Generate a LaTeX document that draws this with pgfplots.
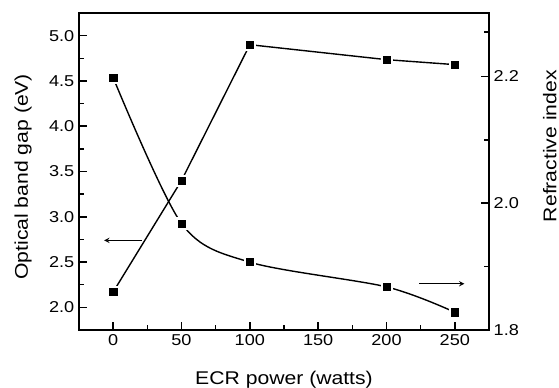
\documentclass[border=0pt]{standalone}
\usepackage{fontspec}
\setmainfont{Liberation Sans}[FakeStretch=1.15]
\usepackage{pgfplots}
\pgfplotsset{compat=1.18}
\begin{document}
\begin{tikzpicture}
\useasboundingbox (0,0) rectangle (419.25pt,291pt);
\pgfplotsset{
  every axis/.append style={
    scale only axis, width=307.5pt, height=237.75pt,
    at={(59.25pt,43.5pt)}, anchor=south west,
    xmin=-25, xmax=275,
    axis line style={line width=1.3pt},
    major tick length=6pt, minor tick length=3.5pt,
    every tick/.style={black, line width=1.1pt},
    tick label style={font=\fontsize{11.8}{13}\selectfont},
    label style={font=\fontsize{13.8}{16}\selectfont},
    /pgf/number format/assume math mode=true,
  }
}
\begin{axis}[
  ymin=1.75, ymax=5.25,
  xtick={0,50,100,150,200,250}, minor xtick={25,75,125,175,225},
  ytick={2.0,2.5,3.0,3.5,4.0,4.5,5.0}, minor ytick={2.25,2.75,3.25,3.75,4.25,4.75},
  xtick pos=bottom, ytick pos=left,
  yticklabel style={/pgf/number format/.cd, fixed, fixed zerofill, precision=1},
  xlabel={ECR power (watts)},
  ylabel={Optical band gap (eV)},
  xlabel style={at={([yshift=-41.25pt]axis description cs:0.5,0)}, anchor=base},
  ylabel style={at={([xshift=-38.25pt,yshift=-4pt]axis description cs:0,0.5)}, anchor=base},
]
\addplot[black, line width=1.05pt] coordinates {(0,2.17) (50,3.40) (100,4.90) (200,4.735) (250,4.68)};
\addplot[only marks, mark=square*, mark size=4.3pt, draw=white, fill=white] coordinates {(0,2.17) (50,3.40) (100,4.90) (200,4.735) (250,4.68)};
\addplot[only marks, mark=square*, mark size=2.7pt, black] coordinates {(0,2.17) (50,3.40) (100,4.90) (200,4.735) (250,4.68)};
\draw[->, >=stealth, line width=0.8pt] (axis cs:21,2.74) -- (axis cs:-6.6,2.74);
\end{axis}
\begin{axis}[
  ymin=1.8, ymax=2.3,
  axis x line=none, axis y line*=right,
  ytick={1.8,2.0,2.2}, minor ytick={1.9,2.1,2.27},
  yticklabel style={/pgf/number format/.cd, fixed, fixed zerofill, precision=1},
  ylabel={Refractive index},
  ylabel style={at={([xshift=50.5pt,yshift=19pt]axis description cs:1,0.5)}, anchor=base},
]
\addplot[black, line width=1.05pt, smooth] coordinates {(0,2.198) (50,1.968) (100,1.907) (200,1.868) (250,1.828)};
\addplot[only marks, mark=square*, mark size=4.3pt, draw=white, fill=white] coordinates {(0,2.198) (50,1.968) (100,1.907) (200,1.868) (250,1.828)};
\addplot[only marks, mark=square*, mark size=2.7pt, black] coordinates {(0,2.198) (50,1.968) (100,1.907) (200,1.868) (250,1.828)};
\draw[->, >=stealth, line width=0.8pt] (axis cs:224,1.873) -- (axis cs:257,1.873);
\end{axis}
\end{tikzpicture}
\end{document}
